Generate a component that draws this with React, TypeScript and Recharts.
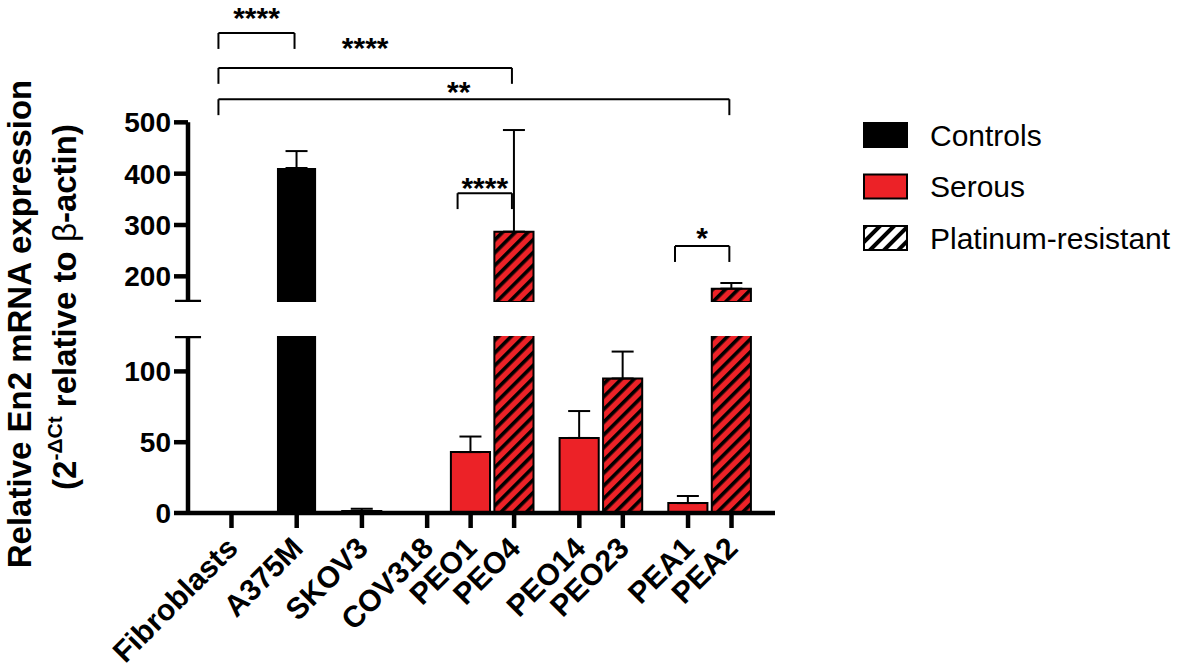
import {
  BarChart,
  Bar,
  XAxis,
  YAxis,
  Cell,
  ErrorBar,
  ReferenceLine,
  ReferenceDot,
} from "recharts";

const cellLines = ["Fibroblasts", "A375M", "SKOV3", "COV318", "PEO1", "PEO4", "PEO14", "PEO23", "PEA1", "PEA2"];
// place of each cell line on the x axis (pairs sit side by side, like the GraphPad layout)
const slots = [0, 3, 6, 9, 11, 13, 16, 18, 21, 23];
const groups = ["Controls", "Controls", "Serous", "Serous", "Serous", "Platinum-resistant", "Serous", "Platinum-resistant", "Serous", "Platinum-resistant"];
const expression = [0.2, 411, 1.5, 0.3, 43, 287, 53, 95, 7, 176];
const sem = [0.1, 33, 1.5, 0.2, 11, 198, 19, 19, 5, 11];

const lowerTicks = [0, 50, 100];
const upperTicks = [200, 300, 400, 500];
const lowerDomain = [0, 125];
const upperDomain = [150, 750]; // room above 500 for the significance brackets
const upperTop = 500;

const legendItems = ["Controls", "Serous", "Platinum-resistant"];

const comparisons = [
  { from: "Fibroblasts", to: "A375M", stars: "****", level: 674, textLevel: 684 },
  { from: "Fibroblasts", to: "PEO4", stars: "****", level: 606, textLevel: 626 },
  { from: "Fibroblasts", to: "PEA2", stars: "**", level: 545, textLevel: 540, textShift: -0.7 },
  { from: "PEO1", to: "PEO4", stars: "****", level: 362, textLevel: 353 },
  { from: "PEA1", to: "PEA2", stars: "*", level: 259, textLevel: 256 },
];

const RED = "#ec2227";
const FONT = "'Liberation Sans', Arial, Helvetica, sans-serif";
const X_DOMAIN = [-2, 25];

const fillFor = (g: string) =>
  g === "Controls" ? "#000" : g === "Serous" ? RED : "url(#hatch)";

const rows = cellLines.map((name, i) => ({
  name,
  pos: slots[i],
  group: groups[i],
  value: expression[i],
  err: [0, sem[i]],
}));
const upperRows = rows.map((r) =>
  r.value >= upperDomain[0] ? r : { ...r, value: null, err: null }
);

const posOf = (name: string) => slots[cellLines.indexOf(name)];

const XTick = (props: any) => {
  const { x, y, payload } = props;
  const name = cellLines[slots.indexOf(payload.value)];
  const ax = x + 8;
  const ay = y + 20;
  return (
    <text
      x={ax}
      y={ay}
      transform={`rotate(-45 ${ax} ${ay})`}
      textAnchor="end"
      fontSize={30}
      fontWeight={700}
      fill="#000"
    >
      {name}
    </text>
  );
};

const barCells = (data: any[]) =>
  data.map((r, i) => (
    <Cell
      key={i}
      fill={fillFor(r.group)}
      stroke="#000"
      strokeWidth={r.group === "Controls" ? 0 : 2}
    />
  ));

const axisStroke = { stroke: "#000", strokeWidth: 4.5 };
const tickStyle = { fill: "#000", fontSize: 28, fontWeight: 700 };

export default function App() {
  return (
    <div style={{ position: "absolute", left: 0, top: 0, width: 1182, height: 668, background: "#fff", fontFamily: FONT, overflow: "hidden" }}>
      <svg width={1182} height={668} style={{ position: "absolute", left: 0, top: 0 }}>
        <defs>
          <pattern id="hatch" patternUnits="userSpaceOnUse" width={9} height={9} patternTransform="rotate(45)">
            <rect width={9} height={9} fill={RED} />
            <rect width={3.6} height={9} fill="#000" />
          </pattern>
          <pattern id="hatchLegend" patternUnits="userSpaceOnUse" width={10} height={10} patternTransform="rotate(45)">
            <rect width={10} height={10} fill="#fff" />
            <rect width={4} height={10} fill="#000" />
          </pattern>
        </defs>

        {/* y axis title */}
        <text transform="translate(31,324) rotate(-90)" textAnchor="middle" fontSize={33} fontWeight={700} fill="#000">
          Relative En2 mRNA expression
        </text>
        <text transform="translate(76,307) rotate(-90)" textAnchor="middle" fontSize={33} fontWeight={700} fill="#000">
          (2
          <tspan dy={-14} fontSize={21}>-ΔCt</tspan>
          <tspan dy={14}> relative to </tspan>
          <tspan fontWeight={400}>β</tspan>
          -actin)
        </text>

        {/* legend */}
        {legendItems.map((item, i) => {
          const cy = 135 + i * 51.5;
          return (
            <g key={item}>
              <rect
                x={864}
                y={cy - 12}
                width={43}
                height={24}
                fill={i === 0 ? "#000" : i === 1 ? RED : "url(#hatchLegend)"}
                stroke="#000"
                strokeWidth={2}
              />
              <text x={930} y={cy + 10.5} fontSize={30} fill="#000">
                {item}
              </text>
            </g>
          );
        })}
      </svg>

      {/* upper segment: 150 - 500 with significance brackets */}
      <div style={{ position: "absolute", left: 0, top: -6 }}>
        <BarChart width={800} height={308} data={upperRows} margin={{ top: 0, right: 25, bottom: 0, left: 0 }}>
          <XAxis type="number" dataKey="pos" domain={X_DOMAIN} allowDataOverflow hide />
          <YAxis
            type="number"
            domain={upperDomain}
            allowDataOverflow
            ticks={upperTicks}
            interval={0}
            width={188}
            axisLine={false}
            tickLine={axisStroke}
            tickSize={14}
            tickMargin={3}
            tick={tickStyle}
          />
          <Bar dataKey="value" barSize={44} isAnimationActive={false}>
            {barCells(upperRows)}
            <ErrorBar dataKey="err" direction="y" width={11} stroke="#000" strokeWidth={2} />
          </Bar>
          <ReferenceLine
            segment={[{ x: X_DOMAIN[0], y: upperDomain[0] }, { x: X_DOMAIN[0], y: upperTop }]}
            ifOverflow="visible"
            {...axisStroke}
          />
          <ReferenceLine
            segment={[{ x: X_DOMAIN[0] - 0.6, y: upperDomain[0] }, { x: X_DOMAIN[0] + 0.6, y: upperDomain[0] }]}
            ifOverflow="visible"
            {...axisStroke}
          />
          {comparisons.map((c, i) => {
            const a = posOf(c.from) - 0.6;
            const b = posOf(c.to) - 0.1;
            const drop = c.level - 31;
            return [
              <ReferenceLine key={`h${i}`} segment={[{ x: a, y: c.level }, { x: b, y: c.level }]} ifOverflow="visible" stroke="#000" strokeWidth={2} />,
              <ReferenceLine key={`l${i}`} segment={[{ x: a, y: c.level }, { x: a, y: drop }]} ifOverflow="visible" stroke="#000" strokeWidth={2} />,
              <ReferenceLine key={`r${i}`} segment={[{ x: b, y: c.level }, { x: b, y: drop }]} ifOverflow="visible" stroke="#000" strokeWidth={2} />,
              <ReferenceDot
                key={`s${i}`}
                x={(a + b) / 2 + (c.textShift ?? 0)}
                y={c.textLevel}
                r={0}
                ifOverflow="visible"
                shape={(p: any) => (
                  <text x={p.cx} y={p.cy} textAnchor="middle" fontSize={30} fontWeight={700} fill="#000">
                    {c.stars}
                  </text>
                )}
              />,
            ];
          })}
        </BarChart>
      </div>

      {/* lower segment: 0 - 125 */}
      <div style={{ position: "absolute", left: 0, top: 336 }}>
        <BarChart width={800} height={332} data={rows} margin={{ top: 0, right: 25, bottom: 0, left: 0 }}>
          <XAxis
            type="number"
            dataKey="pos"
            domain={X_DOMAIN}
            allowDataOverflow
            ticks={slots}
            interval={0}
            height={155}
            axisLine={axisStroke}
            tickLine={axisStroke}
            tickSize={15}
            tick={<XTick />}
          />
          <YAxis
            type="number"
            domain={lowerDomain}
            allowDataOverflow
            ticks={lowerTicks}
            interval={0}
            width={188}
            axisLine={axisStroke}
            tickLine={axisStroke}
            tickSize={14}
            tickMargin={3}
            tick={tickStyle}
          />
          <Bar dataKey="value" barSize={44} isAnimationActive={false}>
            {barCells(rows)}
            <ErrorBar dataKey="err" direction="y" width={11} stroke="#000" strokeWidth={2} />
          </Bar>
          <ReferenceLine
            segment={[{ x: X_DOMAIN[0] - 0.6, y: lowerDomain[1] }, { x: X_DOMAIN[0] + 0.6, y: lowerDomain[1] }]}
            ifOverflow="visible"
            {...axisStroke}
          />
        </BarChart>
      </div>
    </div>
  );
}
